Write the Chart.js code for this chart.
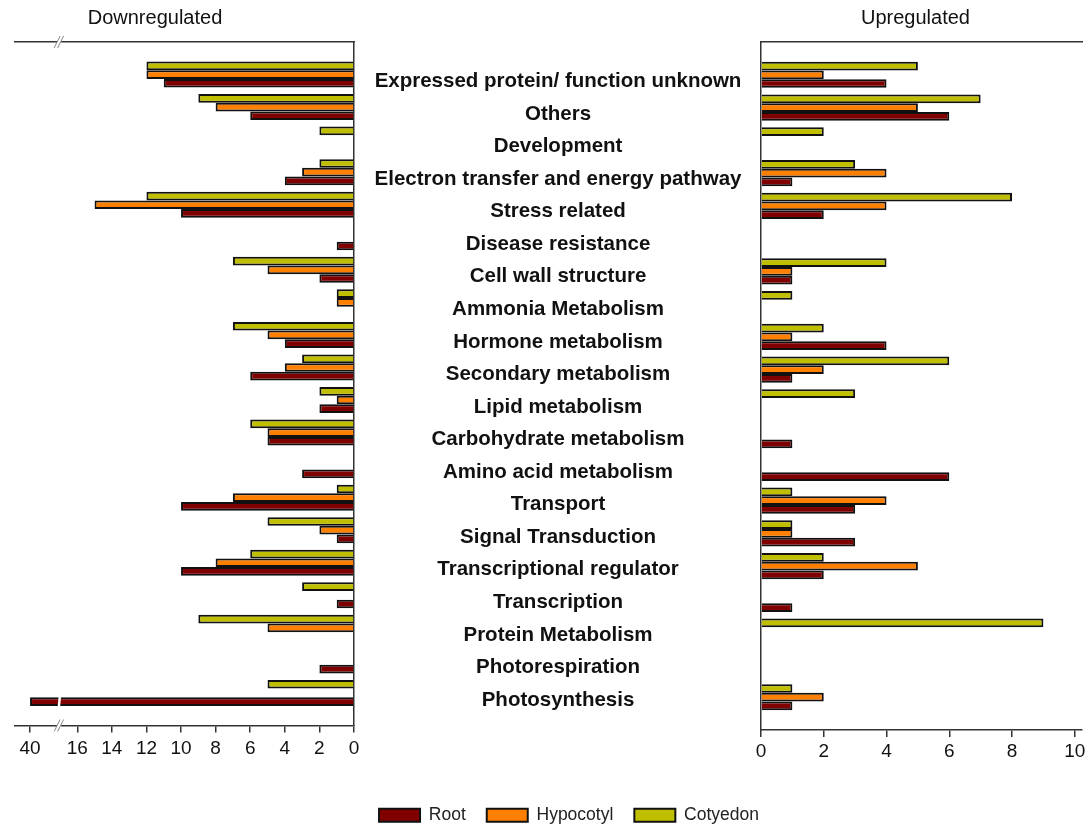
<!DOCTYPE html>
<html><head><meta charset="utf-8">
<script src="https://cdn.jsdelivr.net/npm/chart.js@4.4.1/dist/chart.umd.min.js"></script>
<style>
html,body{margin:0;padding:0;background:#fff;}
#wrap{position:relative;width:1089px;height:829px;overflow:hidden;background:#fff;}
#cL{position:absolute;left:0;top:0;}
#cR{position:absolute;left:740px;top:0;}
</style></head><body>
<div id="wrap">
<canvas id="cL" width="780" height="834"></canvas>
<canvas id="cR" width="349" height="829"></canvas>
</div>
<script>
// ---------- data ----------
const categories = [
  'Expressed protein/ function unknown','Others','Development',
  'Electron transfer and energy pathway','Stress related','Disease resistance',
  'Cell wall structure','Ammonia Metabolism','Hormone metabolism',
  'Secondary metabolism','Lipid metabolism','Carbohydrate metabolism',
  'Amino acid metabolism','Transport','Signal Transduction',
  'Transcriptional regulator','Transcription','Protein Metabolism',
  'Photorespiration','Photosynthesis'
];
const seriesNames = ['Root','Hypocotyl','Cotyedon'];
const rootDown = [11,6,0,4,10,1,2,0,4,6,2,5,3,10,1,10,1,0,2,40];
const hypDown  = [12,8,0,3,15,0,5,1,5,4,1,5,0,7,2,8,0,5,0,0];
const cotDown  = [12,9,2,2,12,0,7,1,7,3,2,6,0,1,5,6,3,9,0,5];
const rootUp = [4,6,0,1,2,0,1,0,4,1,0,1,6,3,3,2,1,0,0,1];
const hypUp  = [2,5,0,4,4,0,1,0,1,2,0,0,0,4,1,5,0,0,0,2];
const cotUp  = [5,7,2,3,8,0,4,1,2,6,3,0,0,1,1,2,0,9,0,1];
const leftTickValues = [0,2,4,6,8,10,12,14,16,40];
const leftTickLabels = ['0','2','4','6','8','10','12','14','16','40'];
const rightTickValues = [0,2,4,6,8,10];
const rightTickLabels = ['0','2','4','6','8','10'];

// ---------- styling / helpers ----------
const FONT = '"Liberation Sans", Arial, Helvetica, sans-serif';
Chart.defaults.font.family = FONT;
const colors = {Root:'#800000', Hypocotyl:'#FF8000', Cotyedon:'#BFBF00'};
// broken axis: values above 16 are compressed so that 40 sits just past the break
const BREAK_LOW = 16, BREAK_HIGH = 40, BREAK_SPAN = 2.73, BREAK_POS = 17.05;
function breakMap(v){
  if (v == null) return null;
  if (v <= BREAK_LOW) return v;
  return BREAK_LOW + (v - BREAK_LOW) / (BREAK_HIGH - BREAK_LOW) * BREAK_SPAN;
}
const pad = a => [null, ...a, null];
const paddedLabels = ['', ...categories, ''];

function makeDatasets(root, hyp, cot, mapFn){
  const f = mapFn || (v => v);
  return [
    {label: seriesNames[2], data: pad(cot.map(f)), backgroundColor: colors.Cotyedon},
    {label: seriesNames[1], data: pad(hyp.map(f)), backgroundColor: colors.Hypocotyl},
    {label: seriesNames[0], data: pad(root.map(f)), backgroundColor: colors.Root}
  ].map(d => Object.assign(d, {borderColor:'#111', borderWidth:2,
      categoryPercentage:0.8, barPercentage:1.0}));
}

const panelTitle = {
  id: 'panelTitle',
  afterDraw(chart, args, opts){
    const ctx = chart.ctx;
    ctx.save();
    ctx.font = '20px ' + FONT;
    ctx.fillStyle = '#111';
    ctx.textAlign = 'center';
    ctx.textBaseline = 'middle';
    ctx.fillText(opts.text, opts.x, opts.y);
    ctx.restore();
  }
};

const axisBreak = {
  id: 'axisBreak',
  afterDatasetsDraw(chart){
    const ctx = chart.ctx;
    const bx = chart.scales.x.getPixelForValue(BREAK_POS);
    ctx.save();
    ctx.fillStyle = '#fff';
    chart.data.datasets.forEach((ds, di) => {
      const meta = chart.getDatasetMeta(di);
      meta.data.forEach((el, i) => {
        const v = ds.data[i];
        if (v != null && v > BREAK_POS) {
          const h = el.height / 2 + 1;
          ctx.beginPath();
          ctx.moveTo(bx - 1.5, el.y + h);
          ctx.lineTo(bx + 1, el.y + h);
          ctx.lineTo(bx + 2, el.y - h);
          ctx.lineTo(bx - 0.5, el.y - h);
          ctx.closePath();
          ctx.fill();
        }
      });
    });
    ctx.restore();
  },
  afterDraw(chart){
    const ctx = chart.ctx, a = chart.chartArea;
    const bx = chart.scales.x.getPixelForValue(BREAK_POS);
    ctx.save();
    [a.top, a.bottom].forEach(y => {
      ctx.fillStyle = '#fff';
      ctx.fillRect(bx - 2, y - 2, 4, 4);
      ctx.strokeStyle = '#888';
      ctx.lineWidth = 1;
      ctx.beginPath();
      ctx.moveTo(bx - 5, y + 6); ctx.lineTo(bx + 1, y - 6);
      ctx.moveTo(bx - 1.5, y + 6); ctx.lineTo(bx + 4.5, y - 6);
      ctx.stroke();
    });
    ctx.restore();
  }
};

const tickFont = {size: 19, family: FONT};
const axisColor = '#333';

// ---------- left: downregulated ----------
new Chart(document.getElementById('cL'), {
  type: 'bar',
  data: {labels: paddedLabels, datasets: makeDatasets(rootDown, hypDown, cotDown, breakMap)},
  options: {
    indexAxis: 'y', responsive: false, animation: false,
    layout: {padding: {left: 15, top: 42, right: 0, bottom: 0}},
    scales: {
      x: {
        type: 'linear', position: 'bottom', reverse: true, min: 0, max: 19.6,
        afterBuildTicks: s => { s.ticks = leftTickValues.map(v => ({value: breakMap(v)})); },
        afterFit: s => { s.height = 60; },
        ticks: {callback: (v, i) => leftTickLabels[i], font: tickFont, color: '#111', padding: 5, maxRotation: 0, autoSkip: false},
        grid: {display: true, drawOnChartArea: false, drawTicks: true, tickLength: 7, color: axisColor, lineWidth: 1.5},
        border: {display: true, color: axisColor, width: 1.5}
      },
      xTop: {
        type: 'linear', position: 'top', reverse: true, min: 0, max: 19.6,
        ticks: {display: false}, grid: {display: false, drawTicks: false},
        border: {display: true, color: axisColor, width: 1.5}
      },
      y: {
        type: 'category', position: 'right', offset: false,
        afterFit: s => { s.width = 426; },
        ticks: {font: {size: 20.5, weight: 'bold', family: FONT}, color: '#111', crossAlign: 'center',
                padding: 20.6, labelOffset: 7, autoSkip: false},
        grid: {display: false, drawTicks: false},
        border: {display: true, color: axisColor, width: 1.5}
      }
    },
    plugins: {
      legend: {position: 'bottom', align: 'end', reverse: true,
        labels: {boxWidth: 41, boxHeight: 13, padding: 21, color: '#222', font: {size: 17.5, family: FONT}}},
      tooltip: {enabled: false},
      panelTitle: {text: 'Downregulated', x: 155, y: 18}
    }
  },
  plugins: [panelTitle, axisBreak]
});

// ---------- right: upregulated ----------
new Chart(document.getElementById('cR'), {
  type: 'bar',
  data: {labels: paddedLabels, datasets: makeDatasets(rootUp, hypUp, cotUp)},
  options: {
    indexAxis: 'y', responsive: false, animation: false,
    layout: {padding: {left: 21, top: 42, right: 7, bottom: 59}},
    scales: {
      x: {
        type: 'linear', position: 'bottom', min: 0, max: 10.23,
        afterBuildTicks: s => { s.ticks = rightTickValues.map(v => ({value: v})); },
        afterFit: s => { s.height = 40; },
        ticks: {callback: (v, i) => rightTickLabels[i], font: tickFont, color: '#111', padding: 3, maxRotation: 0, autoSkip: false},
        grid: {display: true, drawOnChartArea: false, drawTicks: true, tickLength: 7, color: axisColor, lineWidth: 1.5},
        border: {display: true, color: axisColor, width: 1.5}
      },
      xTop: {
        type: 'linear', position: 'top', min: 0, max: 10.23,
        ticks: {display: false}, grid: {display: false, drawTicks: false},
        border: {display: true, color: axisColor, width: 1.5}
      },
      y: {
        type: 'category', position: 'left', offset: false,
        afterFit: s => { s.width = 0; },
        ticks: {display: false},
        grid: {display: false, drawTicks: false},
        border: {display: true, color: axisColor, width: 1.5}
      }
    },
    plugins: {
      legend: {display: false},
      tooltip: {enabled: false},
      panelTitle: {text: 'Upregulated', x: 915.5 - 740, y: 18}
    }
  },
  plugins: [panelTitle]
});
</script>
</body></html>
